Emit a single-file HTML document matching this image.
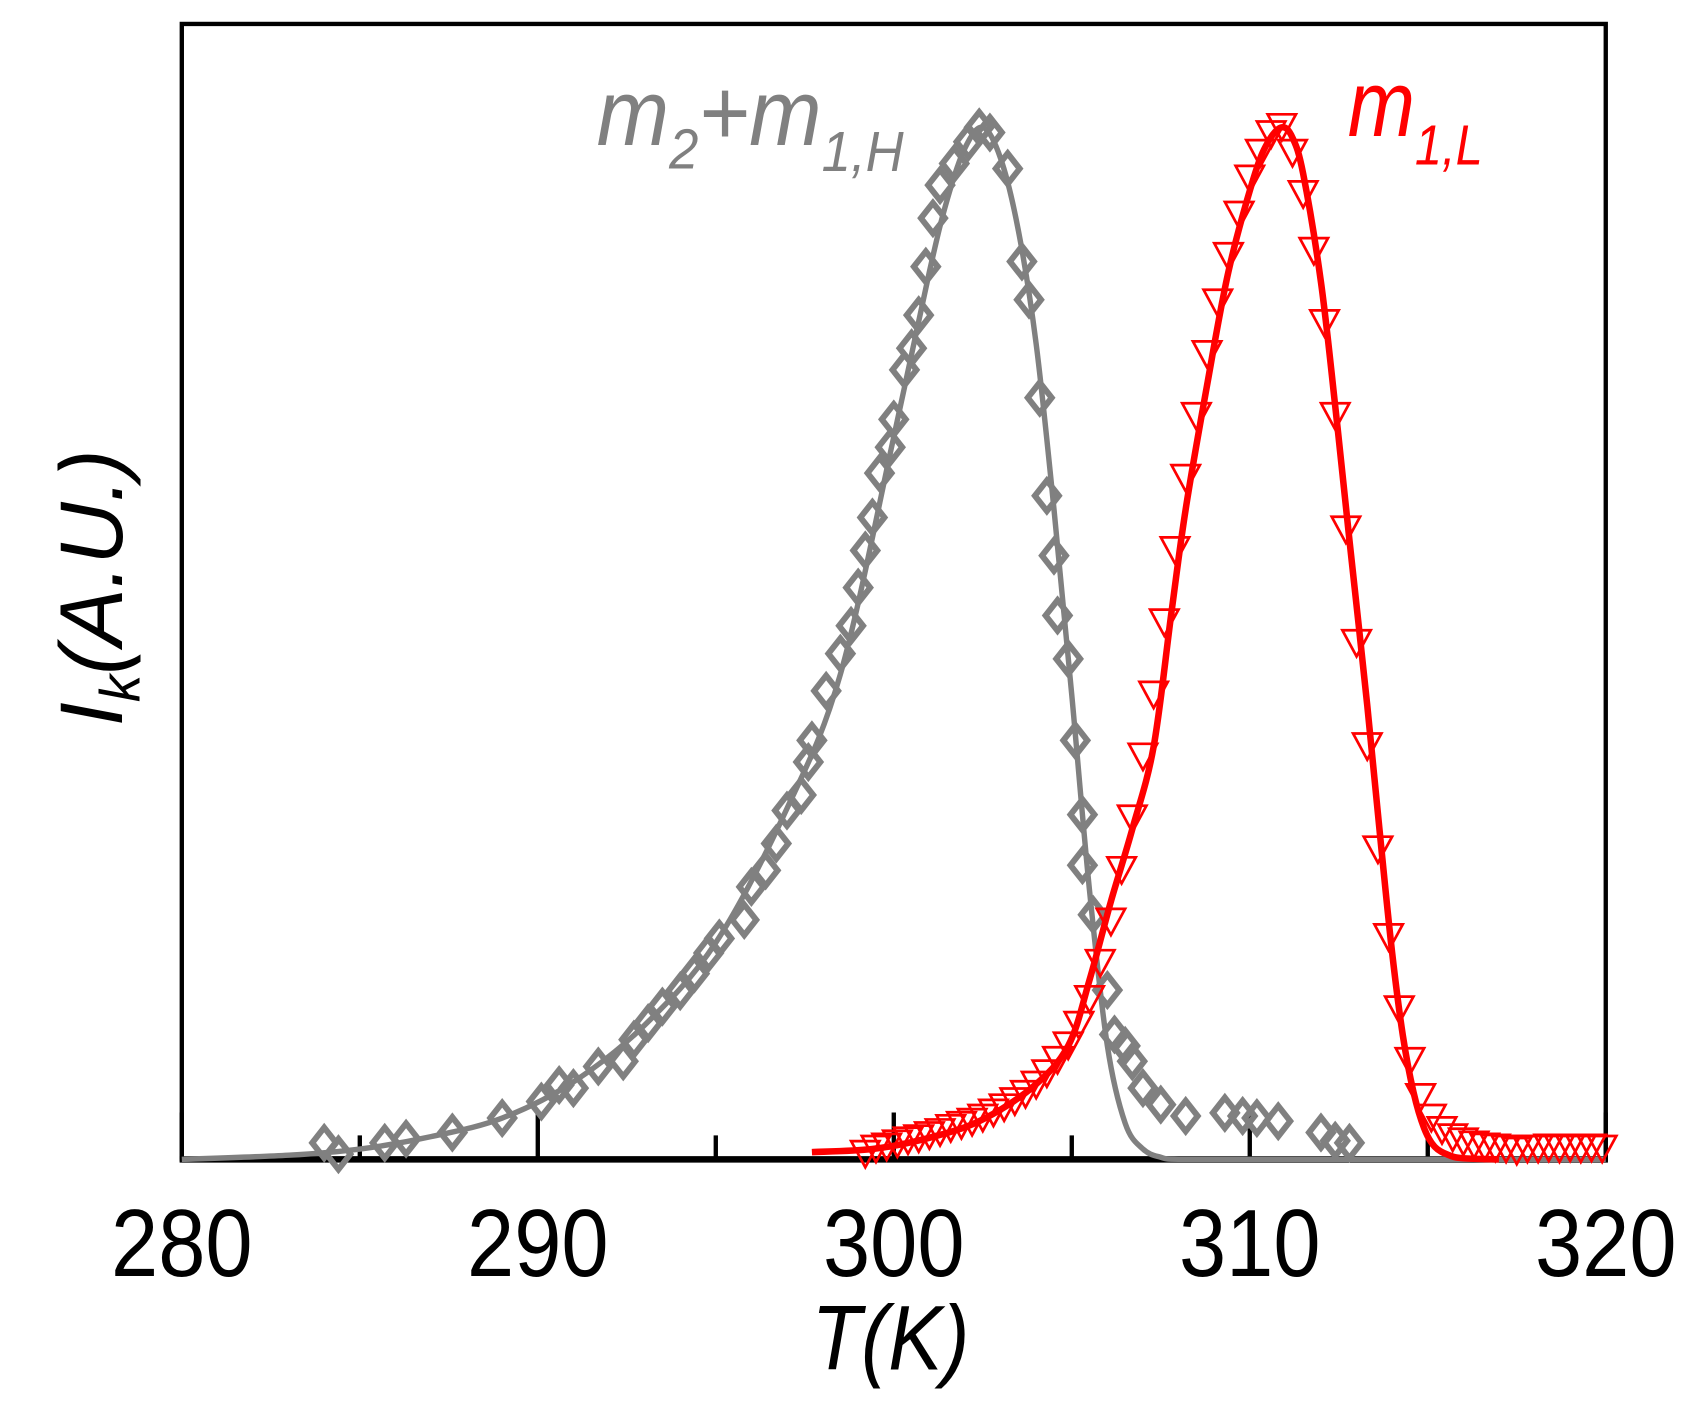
<!DOCTYPE html>
<html><head><meta charset="utf-8"><style>
html,body{margin:0;padding:0;background:#fff;}
svg{display:block;}
text{font-family:"Liberation Sans",Arial,sans-serif;}
</style></head><body>
<svg id="chart" width="1707" height="1401" viewBox="0 0 1568 1287" preserveAspectRatio="none">
<rect x="167" y="22" width="1308" height="1043" fill="none" stroke="#000" stroke-width="4"/>
<line x1="165" y1="1065" x2="1477" y2="1065" stroke="#000" stroke-width="6"/>
<g id="ticks"></g>
<g id="marks"></g>
<text x="818" y="1258" font-size="84" font-style="italic" text-anchor="middle" textLength="145" lengthAdjust="spacingAndGlyphs">T(K)</text>
<text transform="translate(112,540) rotate(-90)" font-size="82" font-style="italic" text-anchor="middle" textLength="254" lengthAdjust="spacingAndGlyphs">I<tspan font-size="52" dy="16">k</tspan><tspan dy="-16">(A.U.)</tspan></text>
<text x="548" y="133" font-size="86" font-style="italic" fill="#808080" textLength="282" lengthAdjust="spacingAndGlyphs">m<tspan font-size="52" dy="22">2</tspan><tspan dy="-22">+m</tspan><tspan font-size="52" dy="24">1,H</tspan></text>
<text x="1238" y="125" font-size="86" font-style="italic" fill="#ff0000" textLength="124" lengthAdjust="spacingAndGlyphs">m<tspan font-size="52" dy="26">1,L</tspan></text>
</svg>
<script>
const xTicks=[280,285,290,295,300,305,310,315,320];
const xLabels=[280,290,300,310,320];
const grayT=[284.0,284.4,285.7,286.3,287.6,289.0,290.1,290.6,291.0,291.7,292.4,292.7,293.1,293.5,294.0,294.4,294.8,295.1,295.8,296.0,296.4,296.7,297.0,297.4,297.6,297.7,298.1,298.5,298.8,299.0,299.2,299.4,299.6,299.9,300.0,300.3,300.5,300.7,300.9,301.1,301.3,301.7,302.1,302.4,302.7,303.2,303.6,303.8,304.1,304.3,304.5,304.6,304.9,305.1,305.3,305.3,305.6,306.0,306.2,306.5,306.7,307.0,307.5,308.2,309.3,309.8,310.2,310.8,312.0,312.4,312.8];
const grayV=[0.016,0.005,0.016,0.02,0.026,0.04,0.056,0.072,0.069,0.09,0.095,0.116,0.132,0.148,0.163,0.18,0.2,0.214,0.232,0.264,0.28,0.306,0.338,0.353,0.385,0.406,0.454,0.49,0.517,0.554,0.59,0.622,0.665,0.69,0.717,0.765,0.786,0.818,0.865,0.912,0.944,0.965,0.986,1.0,0.995,0.96,0.87,0.833,0.738,0.643,0.585,0.527,0.485,0.406,0.334,0.285,0.237,0.164,0.121,0.11,0.095,0.069,0.053,0.042,0.045,0.042,0.04,0.037,0.026,0.018,0.016];
const grayFitT=[280,283,285,287,289,291,293,295,297,298.5,300,301,301.5,302,302.5,303,303.5,304,304.5,305,305.5,306,306.5,307,307.5,308,310,320];
const grayFitV=[0.0,0.004,0.01,0.022,0.04,0.075,0.13,0.21,0.34,0.47,0.7,0.86,0.93,0.98,1.0,0.97,0.9,0.79,0.63,0.45,0.26,0.11,0.035,0.01,0.002,0.0,0.0,0.0];
const redT=[299.2,299.5,299.8,300.1,300.4,300.7,301.0,301.3,301.6,301.9,302.2,302.5,302.8,303.1,303.4,303.7,304.0,304.3,304.6,304.9,305.2,305.5,305.8,306.1,306.4,306.7,307.0,307.3,307.6,307.9,308.2,308.5,308.8,309.1,309.4,309.7,310.0,310.3,310.6,310.9,311.2,311.5,311.8,312.1,312.4,312.7,313.0,313.3,313.6,313.9,314.2,314.5,314.8,315.1,315.4,315.7,316.0,316.3,316.6,316.9,317.2,317.5,317.8,318.1,318.4,318.7,319.0,319.3,319.6,319.9];
const redV=[0.005,0.01,0.012,0.015,0.018,0.02,0.023,0.026,0.03,0.033,0.036,0.04,0.045,0.05,0.056,0.063,0.072,0.083,0.096,0.11,0.13,0.155,0.19,0.23,0.28,0.33,0.39,0.45,0.52,0.59,0.66,0.72,0.78,0.83,0.875,0.915,0.95,0.975,0.993,1.0,0.975,0.935,0.88,0.81,0.72,0.61,0.5,0.4,0.3,0.215,0.145,0.095,0.06,0.04,0.028,0.021,0.017,0.014,0.012,0.011,0.01,0.008,0.01,0.01,0.011,0.01,0.011,0.01,0.011,0.01];
const redFitT=[297.7,299.4,300.9,302.4,303.9,304.9,305.5,306.1,306.7,307.3,307.8,308.2,308.8,309.4,310.1,310.5,310.9,311.2,311.5,312.0,312.4,312.8,313.3,313.7,314.0,314.3,314.6,314.9,315.2,315.6,316,317];
const redFitV=[0.007,0.01,0.02,0.037,0.07,0.11,0.174,0.25,0.32,0.4,0.53,0.63,0.75,0.86,0.95,0.985,1.0,0.99,0.955,0.85,0.73,0.6,0.44,0.3,0.2,0.12,0.065,0.03,0.012,0.004,0.001,0.0];

const NS="http://www.w3.org/2000/svg";
const xs=t=>167+(t-280)*1308/40;
const ys=v=>1065-948*v;
const marks=document.getElementById('marks');
const ticks=document.getElementById('ticks');
function mk(tag,attrs,parent){const e=document.createElementNS(NS,tag);for(const k in attrs)e.setAttribute(k,attrs[k]);parent.appendChild(e);return e;}
function smooth(T,V){
  const p=T.map((t,i)=>[xs(t),ys(V[i])]);
  let d='M'+p[0][0]+','+p[0][1];
  for(let i=0;i<p.length-1;i++){
    const p0=p[i-1]||p[i],p1=p[i],p2=p[i+1],p3=p[i+2]||p2;
    const c1=[p1[0]+(p2[0]-p0[0])/6,Math.min(1065,p1[1]+(p2[1]-p0[1])/6)];
    const c2=[p2[0]-(p3[0]-p1[0])/6,Math.min(1065,p2[1]-(p3[1]-p1[1])/6)];
    d+=` C${c1[0]},${c1[1]} ${c2[0]},${c2[1]} ${p2[0]},${p2[1]}`;
  }
  return d;
}

xTicks.forEach(t=>{
  const major=(t%10===0);
  const l=mk('line',{x1:xs(t),x2:xs(t),y1:1065,y2:major?1022:1043,stroke:'#000','stroke-width':4},ticks);
  
  
});
xLabels.forEach(t=>{
  const tx=mk('text',{x:xs(t),y:1172,'font-size':88,'text-anchor':'middle',textLength:130,lengthAdjust:'spacingAndGlyphs'},ticks);
  tx.textContent=t;
  
  
});

const gp=mk('path',{d:smooth(grayFitT,grayFitV),fill:'none',stroke:'#808080','stroke-width':5,'stroke-linejoin':'round'},marks);


grayT.forEach((t,i)=>{
  const x=xs(t),y=ys(grayV[i]);
  const d=mk('polygon',{points:`${x},${y-14} ${x+11},${y} ${x},${y+14} ${x-11},${y}`,fill:'none',stroke:'#808080','stroke-width':5.5},marks);
  
  
});
redT.forEach((t,i)=>{
  const x=xs(t),y=ys(redV[i]);
  const d=mk('polygon',{points:`${x-13},${y-12} ${x+13},${y-12} ${x},${y+12}`,fill:'none',stroke:'#ff0000','stroke-width':2.5},marks);
  
  
});
const rp=mk('path',{d:smooth(redFitT,redFitV),fill:'none',stroke:'#ff0000','stroke-width':6,'stroke-linejoin':'round'},marks);


</script>
</body></html>
